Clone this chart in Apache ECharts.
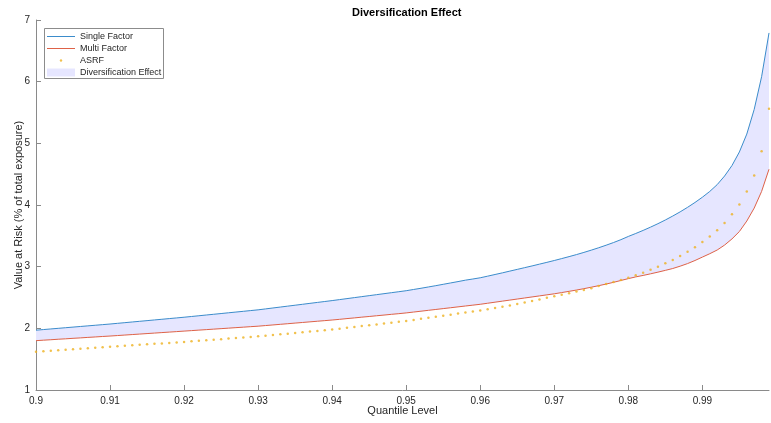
<!DOCTYPE html>
<html>
<head>
<meta charset="utf-8">
<title>Diversification Effect</title>
<script src="https://cdn.jsdelivr.net/npm/echarts@6/dist/echarts.min.js"></script>
<style>
  html, body { margin: 0; padding: 0; background: #ffffff; }
  #chart { width: 771px; height: 423px; }
</style>
</head>
<body>
<div id="chart"></div>
<script>
// Quantile levels (x values)
const quantiles = [
  0.900,0.901,0.902,0.903,0.904,0.905,0.906,0.907,0.908,0.909,
  0.910,0.911,0.912,0.913,0.914,0.915,0.916,0.917,0.918,0.919,
  0.920,0.921,0.922,0.923,0.924,0.925,0.926,0.927,0.928,0.929,
  0.930,0.931,0.932,0.933,0.934,0.935,0.936,0.937,0.938,0.939,
  0.940,0.941,0.942,0.943,0.944,0.945,0.946,0.947,0.948,0.949,
  0.950,0.951,0.952,0.953,0.954,0.955,0.956,0.957,0.958,0.959,
  0.960,0.961,0.962,0.963,0.964,0.965,0.966,0.967,0.968,0.969,
  0.970,0.971,0.972,0.973,0.974,0.975,0.976,0.977,0.978,0.979,
  0.980,0.981,0.982,0.983,0.984,0.985,0.986,0.987,0.988,0.989,
  0.990,0.991,0.992,0.993,0.994,0.995,0.996,0.997,0.998,0.999
];

// Value at Risk, single-factor model (% of total exposure)
const singleFactor = [
  1.970,1.980,1.990,2.000,2.010,2.020,2.030,2.040,2.050,2.060,
  2.070,2.081,2.092,2.103,2.114,2.125,2.136,2.147,2.158,2.169,
  2.180,2.192,2.204,2.216,2.228,2.240,2.252,2.264,2.276,2.288,
  2.300,2.315,2.330,2.345,2.360,2.375,2.390,2.405,2.420,2.435,
  2.450,2.466,2.482,2.498,2.514,2.530,2.546,2.562,2.578,2.594,
  2.610,2.630,2.650,2.671,2.692,2.714,2.736,2.758,2.781,2.800,
  2.820,2.846,2.873,2.900,2.928,2.956,2.984,3.012,3.041,3.070,
  3.100,3.131,3.163,3.196,3.231,3.268,3.307,3.348,3.391,3.438,
  3.490,3.538,3.588,3.641,3.697,3.757,3.821,3.889,3.962,4.041,
  4.126,4.220,4.330,4.470,4.640,4.860,5.150,5.550,6.080,6.790
];

// Value at Risk, multi-factor model
const multiFactor = [
  1.800,1.808,1.815,1.823,1.830,1.838,1.845,1.853,1.860,1.868,
  1.875,1.883,1.891,1.899,1.907,1.915,1.923,1.931,1.939,1.947,
  1.955,1.963,1.971,1.979,1.987,1.995,2.003,2.011,2.019,2.027,
  2.035,2.045,2.055,2.065,2.075,2.085,2.095,2.105,2.115,2.125,
  2.135,2.146,2.158,2.169,2.181,2.192,2.204,2.215,2.227,2.238,
  2.250,2.264,2.278,2.292,2.306,2.320,2.334,2.348,2.362,2.376,
  2.390,2.407,2.424,2.441,2.458,2.475,2.492,2.509,2.526,2.543,
  2.560,2.580,2.600,2.621,2.643,2.667,2.692,2.718,2.746,2.776,
  2.806,2.834,2.858,2.884,2.911,2.940,2.970,3.008,3.050,3.100,
  3.155,3.210,3.270,3.350,3.450,3.570,3.740,3.950,4.220,4.580
];

// Value at Risk, asymptotic single risk factor formula
const asrf = [
  1.620,1.628,1.636,1.644,1.652,1.660,1.668,1.676,1.684,1.692,
  1.700,1.708,1.716,1.724,1.732,1.740,1.748,1.756,1.764,1.772,
  1.780,1.789,1.798,1.807,1.816,1.825,1.834,1.843,1.852,1.861,
  1.870,1.881,1.892,1.903,1.914,1.925,1.936,1.947,1.958,1.969,
  1.980,1.994,2.008,2.022,2.036,2.050,2.064,2.078,2.092,2.106,
  2.120,2.137,2.154,2.171,2.188,2.205,2.222,2.239,2.256,2.273,
  2.290,2.310,2.330,2.351,2.372,2.395,2.418,2.443,2.468,2.494,
  2.520,2.545,2.570,2.596,2.622,2.650,2.685,2.718,2.750,2.782,
  2.820,2.860,2.900,2.950,3.000,3.055,3.110,3.175,3.240,3.315,
  3.400,3.490,3.590,3.710,3.850,4.010,4.220,4.480,4.870,5.560
];

// Tick positions on the quantile axis
const xTicks = [0.90, 0.91, 0.92, 0.93, 0.94, 0.95, 0.96, 0.97, 0.98, 0.99];

const pairs = (ys) => quantiles.map((q, i) => [q, ys[i]]);

const FONT = '"Liberation Sans", Arial, Helvetica, sans-serif';
const TEXT = '#262626';
const AXIS = '#8a8a8a';
const BLUE = '#3b8ccb';
const RED = '#de6248';
const GOLD = '#EDB120';
const BAND = '#e6e6ff';

// Legend glyphs, all sharing a 28x9 box (leading moves pin the box size)
const ICON_LINE = 'path://M0,0M28,9M0,4h28v1h-28z';
const ICON_DOT = 'path://M0,0M28,9M12.8,4.5a1.2,1.2 0 1,0 2.4,0a1.2,1.2 0 1,0 -2.4,0z';
const ICON_PATCH = 'path://M0,0M28,9M0,0.5h28v8h-28z';

const chart = echarts.init(document.getElementById('chart'), null, { renderer: 'canvas' });

chart.setOption({
  animation: false,
  backgroundColor: '#ffffff',
  title: {
    text: 'Diversification Effect',
    left: 352,
    top: 7,
    padding: 0,
    textStyle: { color: '#000', fontSize: 11, fontWeight: 'bold', fontFamily: FONT }
  },
  grid: { left: 36, right: 2, top: 20, bottom: 33, containLabel: false, outerBoundsMode: 'none' },
  legend: {
    z: 10,
    orient: 'vertical',
    left: 47,
    top: 32,
    padding: 0,
    itemGap: 3,
    itemWidth: 28,
    itemHeight: 9,
    selectedMode: false,
    textStyle: { color: TEXT, fontSize: 9, fontFamily: FONT, lineHeight: 9 },
    data: [
      { name: 'Single Factor', icon: ICON_LINE },
      { name: 'Multi Factor', icon: ICON_LINE },
      { name: 'ASRF', icon: ICON_DOT },
      { name: 'Diversification Effect', icon: ICON_PATCH }
    ]
  },
  graphic: [
    {
      type: 'rect', z: 6, silent: true,
      shape: { x: 44.5, y: 28.5, width: 119, height: 50 },
      style: { fill: '#ffffff', stroke: '#8c8c8c', lineWidth: 1 }
    }
  ],
  xAxis: {
    type: 'value',
    min: 0.9,
    max: 0.999,
    name: 'Quantile Level',
    nameLocation: 'middle',
    nameGap: 15,
    nameMoveOverlap: false,
    nameTextStyle: { color: TEXT, fontSize: 11, fontFamily: FONT },
    axisLine: { lineStyle: { color: AXIS, width: 1 } },
    axisTick: { inside: true, length: 5, lineStyle: { color: AXIS }, customValues: xTicks },
    axisLabel: {
      color: TEXT, fontSize: 10, fontFamily: FONT, margin: 6,
      customValues: xTicks,
      formatter: (v) => String(Math.round(v * 1000) / 1000)
    },
    splitLine: { show: false }
  },
  yAxis: {
    type: 'value',
    min: 1,
    max: 7,
    interval: 1,
    name: 'Value at Risk (% of total exposure)',
    nameLocation: 'middle',
    nameGap: 12,
    nameMoveOverlap: false,
    nameTextStyle: { color: TEXT, fontSize: 11, fontFamily: FONT },
    axisLine: { show: true, lineStyle: { color: AXIS, width: 1 } },
    axisTick: { show: true, inside: true, length: 5, lineStyle: { color: AXIS } },
    axisLabel: { color: TEXT, fontSize: 10, fontFamily: FONT, margin: 6 },
    splitLine: { show: false }
  },
  series: [
    {
      // shaded band between the two model curves
      name: 'Diversification Effect',
      type: 'custom',
      coordinateSystem: 'cartesian2d',
      z: 1,
      silent: true,
      itemStyle: { color: BAND },
      data: [[quantiles[0], singleFactor[0]]],
      renderItem: (params, api) => {
        const points = [];
        for (let i = 0; i < quantiles.length; i++) {
          points.push(api.coord([quantiles[i], singleFactor[i]]));
        }
        for (let i = quantiles.length - 1; i >= 0; i--) {
          points.push(api.coord([quantiles[i], multiFactor[i]]));
        }
        return {
          type: 'polygon',
          shape: { points },
          style: { fill: BAND, stroke: null }
        };
      }
    },
    {
      name: 'Single Factor',
      type: 'line',
      z: 3,
      symbol: 'none',
      color: BLUE,
      itemStyle: { color: BLUE },
      lineStyle: { color: BLUE, width: 1 },
      data: pairs(singleFactor)
    },
    {
      name: 'Multi Factor',
      type: 'line',
      z: 3,
      symbol: 'none',
      color: RED,
      itemStyle: { color: RED },
      lineStyle: { color: RED, width: 1 },
      data: pairs(multiFactor)
    },
    {
      name: 'ASRF',
      type: 'scatter',
      z: 4,
      symbol: 'circle',
      symbolSize: 2.5,
      color: GOLD,
      itemStyle: { color: GOLD },
      data: pairs(asrf)
    }
  ]
});
</script>
</body>
</html>
